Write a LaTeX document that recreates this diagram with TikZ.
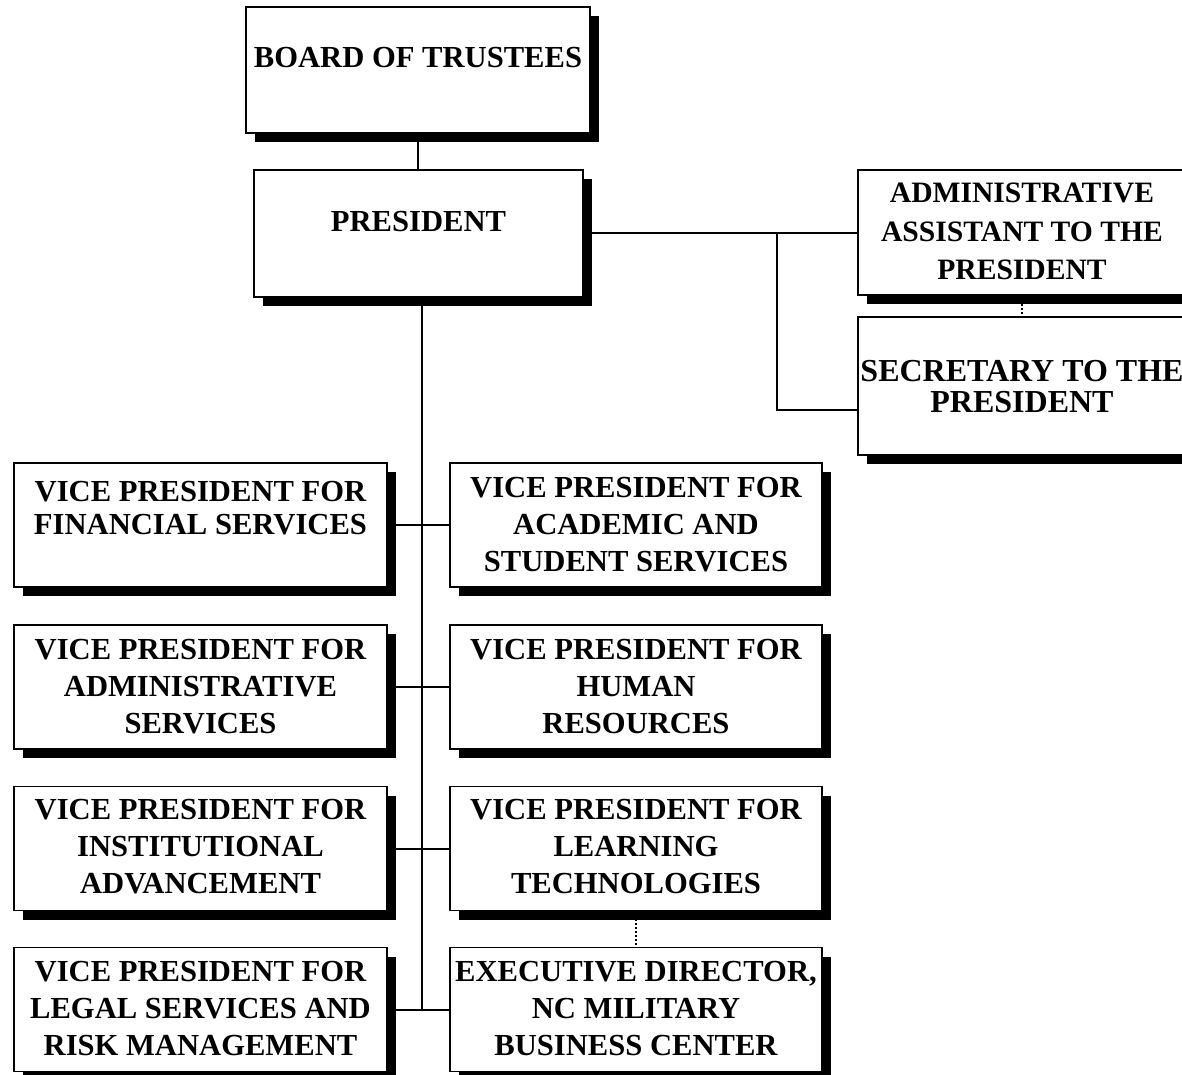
\documentclass[tikz,border=0pt]{standalone}
\usepackage{fontspec}
\setmainfont{Liberation Serif}
\usetikzlibrary{shadows}

% text of a box: [gap above first line]{height}{width}{lines}
\newcommand{\posttext}[4][14pt]{\parbox[c][#2][t]{#3}{\centering\vspace*{#1}#4}}

\begin{document}
\begin{tikzpicture}[x=1pt, y=-1pt,
  post/.style={draw, fill=white, line width=1.8pt, inner sep=0pt,
    font=\fontsize{30.6}{37}\selectfont\bfseries,
    drop shadow={shadow xshift=9pt, shadow yshift=-9pt, fill=black, opacity=1}},
  link/.style={line width=2pt},
  dotlink/.style={line width=1.6pt, dash pattern=on 2pt off 2pt}]

  \useasboundingbox (0,0) rectangle (1182,1075);

  % === Top of the chart ===
  \node[post] (board) at (418,70)
    {\posttext[40pt]{126pt}{344pt}{BOARD OF TRUSTEES}};
  \node[post] (pres) at (418.5,233.5)
    {\posttext[41pt]{127pt}{329pt}{PRESIDENT}};

  % === Staff of the president ===
  \node[post, font=\fontsize{29.6}{38.5}\selectfont\bfseries] (assist) at (1022,232.5)
    {\posttext[13pt]{125pt}{328pt}{ADMINISTRATIVE\\ ASSISTANT TO THE\\ PRESIDENT}};
  \node[post, font=\fontsize{32}{31.7}\selectfont\bfseries] (secr) at (1022,386)
    {\posttext[43pt]{138pt}{328pt}{SECRETARY TO THE\\ PRESIDENT}};

  % === Vice presidents, left column ===
  \node[post] (vpfin) at (200.5,525)
    {\posttext[18pt]{124pt}{373pt}{VICE PRESIDENT FOR\\[-4pt] FINANCIAL SERVICES}};
  \node[post] (vpadm) at (200.5,687)
    {\posttext{124pt}{373pt}{VICE PRESIDENT FOR\\ ADMINISTRATIVE\\ SERVICES}};
  \node[post] (vpinst) at (200.5,848.5)
    {\posttext[13pt]{124pt}{373pt}{VICE PRESIDENT FOR\\ INSTITUTIONAL\\ ADVANCEMENT}};
  \node[post] (vplegal) at (200.5,1009.5)
    {\posttext{124pt}{373pt}{VICE PRESIDENT FOR\\ LEGAL SERVICES AND\\ RISK MANAGEMENT}};

  % === Vice presidents, right column ===
  \node[post] (vpacad) at (636,525)
    {\posttext{124pt}{372pt}{VICE PRESIDENT FOR\\ ACADEMIC AND\\ STUDENT SERVICES}};
  \node[post] (vphr) at (636,687)
    {\posttext{124pt}{372pt}{VICE PRESIDENT FOR\\ HUMAN\\ RESOURCES}};
  \node[post] (vplearn) at (636,848.5)
    {\posttext[13pt]{124pt}{372pt}{VICE PRESIDENT FOR\\ LEARNING\\ TECHNOLOGIES}};
  \node[post] (execdir) at (636,1009.5)
    {\posttext{124pt}{372pt}{EXECUTIVE DIRECTOR,\\ NC MILITARY\\ BUSINESS CENTER}};

  % === Lines ===
  \coordinate (trunk) at (422,0);
  \coordinate (fork) at (777,410);

  \draw[link] (board.south) -- (board.south |- pres.north);
  \draw[link] (trunk |- pres.south) -- (trunk |- vplegal.east);
  \foreach \l/\r in {vpfin/vpacad, vpadm/vphr, vpinst/vplearn, vplegal/execdir}
    \draw[link] (\l.east) -- (\r.west);

  \draw[link] (pres.east) -- (pres.east -| assist.west);
  \draw[link] (fork |- pres.east) -- (fork) -- (fork -| secr.west);

  \draw[dotlink] (assist.south) -- (secr.north);
  \draw[dotlink] (vplearn.south) -- (execdir.north);

\end{tikzpicture}
\end{document}
